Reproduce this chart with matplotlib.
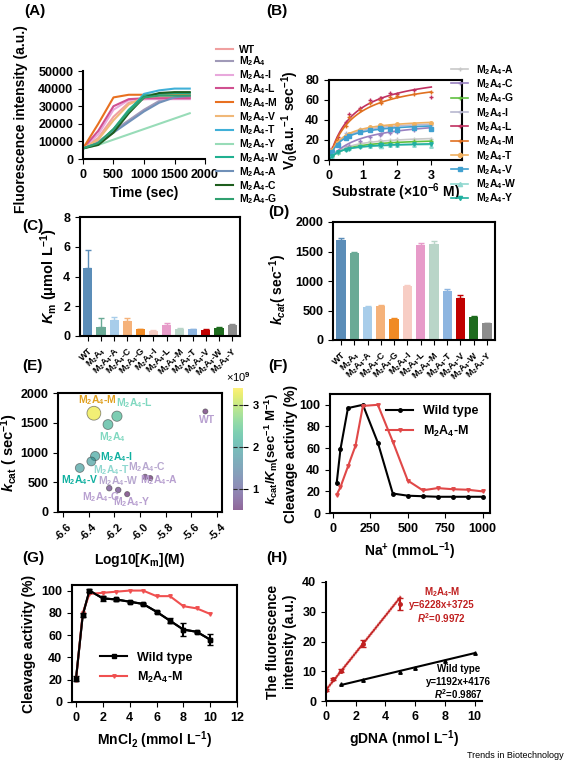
import numpy as np
import matplotlib.pyplot as plt
from matplotlib.colors import Normalize

plt.rcParams['font.family'] = ['Liberation Sans', 'DejaVu Sans']
plt.rcParams['font.weight'] = 'bold'
plt.rcParams['axes.labelweight'] = 'bold'
plt.rcParams['axes.linewidth'] = 1.5
plt.rcParams['font.size'] = 9
plt.rcParams['mathtext.fontset'] = 'custom'
plt.rcParams['mathtext.rm'] = 'Liberation Sans:bold'
plt.rcParams['mathtext.it'] = 'Liberation Sans:italic:bold'
plt.rcParams['mathtext.bf'] = 'Liberation Sans:bold'

W, H = 566, 767
def ax_px(fig, l, t, r, b):
    return fig.add_axes([l / W, 1 - b / H, (r - l) / W, (b - t) / H])

# ---------------- data ----------------
# (A) fluorescence time courses
time_a = [0, 250, 500, 750, 1000, 1250, 1500, 1750]
a_names = ['WT', 'M$_2$A$_4$', 'M$_2$A$_4$-I', 'M$_2$A$_4$-L', 'M$_2$A$_4$-M', 'M$_2$A$_4$-V',
           'M$_2$A$_4$-T', 'M$_2$A$_4$-Y', 'M$_2$A$_4$-W', 'M$_2$A$_4$-A', 'M$_2$A$_4$-C', 'M$_2$A$_4$-G']
a_colors = ['#f0a0a0', '#a09ab8', '#e8a8dc', '#d05090', '#e87020', '#f0b878',
            '#40b0d8', '#98dcb8', '#20b090', '#7090b8', '#1e5e1e', '#30a070']
a_curves = [
    [6000, 12000, 24000, 32000, 34000, 34500, 35000, 35000],
    [6000, 10000, 16000, 22000, 28000, 33000, 35000, 35000],
    [6000, 14000, 28000, 33500, 34000, 34000, 34000, 34000],
    [6000, 16000, 30000, 34000, 34500, 34500, 34500, 34500],
    [6000, 20000, 35000, 36500, 36500, 36500, 36500, 36500],
    [6000, 11000, 22000, 31000, 35000, 36000, 36000, 36000],
    [6000, 9000, 16000, 27000, 37000, 39000, 40000, 40000],
    [6000, 8000, 11000, 14000, 17000, 20000, 23000, 26000],
    [6000, 9000, 17000, 28000, 36000, 37000, 37500, 37500],
    [6000, 9000, 15000, 21000, 27000, 32000, 35000, 36000],
    [6000, 8000, 15000, 26000, 35000, 37500, 38000, 38000],
    [6000, 9000, 17000, 27000, 35000, 36000, 36000, 36000],
]

# (B) Michaelis-Menten
subst = [0.1, 0.25, 0.5, 0.6, 0.9, 1.2, 1.5, 1.8, 2.0, 2.5, 3.0]
b_names = ['M$_2$A$_4$-A', 'M$_2$A$_4$-C', 'M$_2$A$_4$-G', 'M$_2$A$_4$-I', 'M$_2$A$_4$-L',
           'M$_2$A$_4$-M', 'M$_2$A$_4$-T', 'M$_2$A$_4$-V', 'M$_2$A$_4$-W', 'M$_2$A$_4$-Y']
b_colors = ['#c8c8c8', '#9880c0', '#60c040', '#b8b8d0', '#c03060',
            '#e07020', '#f0b060', '#40a0d0', '#90d8d0', '#20b0a0']
b_markers = ['+', '+', '+', '+', '+', '+', 'o', 's', '^', 'v']
b_vmax = [25, 42, 22, 40, 90, 84, 42, 38, 17, 18]
b_km = [0.5, 0.9, 0.5, 0.35, 0.7, 0.7, 0.35, 0.35, 0.3, 0.35]
b_points = [
    [5, 9, 14, 15, 18, 19, 20, 20, 21, 21, 21],
    [4, 8, 12, 14, 19, 23, 25, 27, 28, 30, 32],
    [4, 7, 11, 12, 15, 16, 17, 18, 18, 19, 19],
    [10, 17, 27, 26, 31, 33, 35, 34, 35, 35, 35],
    [12, 23, 38, 46, 52, 60, 62, 67, 66, 70, 63],
    [10, 20, 34, 43, 50, 57, 60, 63, 64, 66, 68],
    [10, 17, 24, 26, 30, 33, 35, 34, 36, 36, 37],
    [8, 15, 22, 24, 28, 30, 32, 31, 30, 32, 31],
    [4, 8, 11, 12, 14, 14, 15, 15, 15, 15, 14],
    [4, 8, 10, 11, 13, 14, 15, 15, 15, 16, 16],
]

# (C)/(D) bars
bar_labels = ['WT', 'M$_2$A$_4$', 'M$_2$A$_4$-A', 'M$_2$A$_4$-C', 'M$_2$A$_4$-G', 'M$_2$A$_4$-I',
              'M$_2$A$_4$-L', 'M$_2$A$_4$-M', 'M$_2$A$_4$-T', 'M$_2$A$_4$-V', 'M$_2$A$_4$-W', 'M$_2$A$_4$-Y']
km_vals = [4.6, 0.6, 1.1, 1.0, 0.45, 0.35, 0.75, 0.45, 0.45, 0.38, 0.55, 0.75]
km_err = [1.2, 0.6, 0.2, 0.2, 0.05, 0.05, 0.15, 0.1, 0.05, 0.07, 0.04, 0.07]
c_colors = ['#5b8db8', '#6aaa96', '#a8cdea', '#f5b27a', '#f08a24', '#f7cdc4',
            '#e79bc9', '#b9d5c8', '#8db5e0', '#c00000', '#1e6b1e', '#8c8c8c']
kcat_vals = [1690, 1470, 560, 570, 350, 920, 1610, 1630, 830, 720, 390, 280]
kcat_err = [40, 30, 20, 30, 15, 20, 40, 40, 30, 50, 20, 10]

# (E) bubble chart
e_names = ['M$_2$A$_4$-M', 'M$_2$A$_4$-L', 'M$_2$A$_4$', 'M$_2$A$_4$-I', 'M$_2$A$_4$-T', 'M$_2$A$_4$-V',
           'M$_2$A$_4$-C', 'M$_2$A$_4$-A', 'M$_2$A$_4$-W', 'M$_2$A$_4$-G', 'M$_2$A$_4$-Y', 'WT']
e_logkm = [-6.36, -6.18, -6.25, -6.35, -6.38, -6.47, -5.96, -5.92, -6.24, -6.17, -6.10, -5.49]
e_kcat = [1660, 1610, 1470, 940, 850, 740, 590, 570, 400, 370, 300, 1690]
e_eff = [3.3, 2.3, 2.2, 2.0, 1.9, 1.9, 0.6, 0.5, 0.7, 0.7, 0.5, 0.4]  # x1e9
e_label_xy = [(-6.48, 1880), (-6.19, 1830), (-6.32, 1260), (-6.31, 920), (-6.37, 710), (-6.62, 540),
              (-6.09, 760), (-6.0, 540), (-6.33, 520), (-6.45, 250), (-6.21, 160), (-5.54, 1550)]
e_label_col = ['#e0a020', '#80d8c0', '#80d8c0', '#10b0a0', '#90d8d0', '#10b0a0',
               '#b8a8d0', '#b8a0d0', '#b8a8d0', '#b8a0d0', '#b8a0d0', '#b8a0d0']

# (F) Na+
na_wt = [25, 50, 100, 200, 300, 400, 500, 600, 700, 800, 900, 1000]
act_wt_na = [28, 59, 97, 100, 65, 18, 16, 15.5, 15, 15, 15, 15]
na_m = [25, 50, 100, 150, 200, 300, 400, 500, 600, 700, 800, 900, 1000]
act_m_na = [17, 24, 43, 62, 99, 100, 66, 30, 21, 23, 22, 21.5, 20]

# (G) MnCl2
mn = [0, 0.5, 1, 2, 3, 4, 5, 6, 7, 8, 9, 10]
act_wt_mn = [21, 78, 100, 93, 92, 90, 88, 81, 73, 65, 63, 56]
err_wt_mn = [2, 2, 1, 2, 1, 1, 1, 1, 2, 6, 1, 5]
act_m_mn = [20, 80, 97, 98, 99, 100, 100, 95, 95, 86, 84, 79]

# (H) gDNA calibration
gdna_m = [0, 0.5, 1, 2.5, 5]
fl_m = [3.7, 7.5, 10.2, 19.3, 32.7]
err_m = [0.3, 0.3, 0.5, 1.2, 2.0]
gdna_wt = [1, 2.5, 5, 6, 8, 10]
fl_wt = [5.6, 6.9, 9.6, 11.2, 13.4, 16.2]
fit_m = (6.228, 3.725)
fit_wt = (1.192, 4.176)

fig = plt.figure(figsize=(W / 100, H / 100), dpi=100)

def panel(x, y, s):
    fig.text(x / W, 1 - y / H, s, fontsize=11, fontweight='bold', va='center')

def bars(ax, vals, errs):
    xb = np.arange(len(vals))
    ax.bar(xb, vals, color=c_colors, width=0.7)
    for xi, v, e, c in zip(xb, vals, errs, c_colors):
        ax.errorbar(xi, v, yerr=[[0], [e]], fmt='none', ecolor=c, capsize=2, lw=1)
    ax.set_xlim(-0.6, 11.6)
    ax.set_xticks(xb)
    ax.set_xticklabels(bar_labels, rotation=45, ha='right', fontsize=6.5, rotation_mode='anchor')

# ---- A ----
ax = ax_px(fig, 83, 71, 205, 159)
for n, c, v in zip(a_names, a_colors, a_curves):
    ax.plot(time_a, v, color=c, lw=1.5, label=n)
ax.set_xlim(0, 2000)
ax.set_ylim(0, 50000)
ax.set_xticks([0, 500, 1000, 1500, 2000])
ax.set_yticks([0, 10000, 20000, 30000, 40000, 50000])
ax.set_xlabel('Time (sec)', fontsize=10)
ax.set_ylabel('Fluorescence intensity (a.u.)', fontsize=10)
ax.yaxis.set_label_coords(-0.45, 0.45)
for s in ['top', 'right']:
    ax.spines[s].set_visible(False)
ax.legend(loc='upper left', bbox_to_anchor=(1.05, 1.36), frameon=False, fontsize=7.5,
          handlelength=1.6, labelspacing=0.0, borderpad=0, handletextpad=0.6)
panel(24, 11, '(A)')

# ---- B ----
ax = ax_px(fig, 329, 80, 462, 160)
xs = np.linspace(0, 3, 100)
for n, c, m, vm, km, p in zip(b_names, b_colors, b_markers, b_vmax, b_km, b_points):
    ax.plot(xs, vm * xs / (km + xs), color=c, lw=1.2, label=n, marker=m, markevery=[50], ms=3)
    ax.plot(subst, p, ls='none', marker=m, color=c, ms=2.5)
ax.set_xlim(0, 3.9)
ax.set_ylim(0, 80)
ax.set_xticks([0, 1, 2, 3])
ax.set_yticks([0, 20, 40, 60, 80])
ax.set_xlabel('Substrate ($\\times$10$^{-6}$ M)', fontsize=10, labelpad=0)
ax.set_ylabel('V$_0$(a.u.$^{-1}$ sec$^{-1}$)', fontsize=10, labelpad=3)
ax.legend(loc='upper left', bbox_to_anchor=(0.88, 1.28), frameon=False, fontsize=7.5,
          handlelength=1.6, labelspacing=0.05, borderpad=0)
panel(266, 11, '(B)')

# ---- C ----
ax = ax_px(fig, 80, 217, 240, 336)
bars(ax, km_vals, km_err)
ax.set_ylim(0, 8)
ax.set_yticks([0, 2, 4, 6, 8])
ax.set_ylabel('$\\mathit{K}_\\mathrm{m}$ (μmol L$^{-1}$)', fontsize=10.5, labelpad=2)
panel(22, 226, '(C)')

# ---- D ----
ax = ax_px(fig, 333, 222, 495, 340)
bars(ax, kcat_vals, kcat_err)
ax.set_ylim(0, 2000)
ax.set_yticks([0, 500, 1000, 1500, 2000])
ax.set_ylabel('$\\mathit{k}_{\\mathit{cat}}$( sec$^{-1}$)', fontsize=10, labelpad=2)
ax.yaxis.set_label_coords(-0.27, 0.43)
panel(268, 212, '(D)')

# ---- E ----
ax = ax_px(fig, 58, 393, 222, 512)
norm = Normalize(0.5, 3.4)
sc = ax.scatter(e_logkm, e_kcat, s=[12 + 8 * v ** 2 for v in e_eff], c=e_eff, cmap='viridis',
                norm=norm, alpha=0.6, edgecolors='#404040', linewidths=0.6, zorder=3)
for n, (lx, ly), col in zip(e_names, e_label_xy, e_label_col):
    ax.text(lx, ly, n, color=col, fontsize=7.5, fontweight='bold', va='center')
ax.set_xlim(-6.64, -5.36)
ax.set_ylim(0, 2000)
ax.set_xticks([-6.6, -6.4, -6.2, -6.0, -5.8, -5.6, -5.4])
ax.set_xticklabels(['-6.6', '-6.4', '-6.2', '-6.0', '-5.8', '-5.6', '-5.4'], rotation=45, fontsize=8)
ax.set_yticks([0, 500, 1000, 1500, 2000])
ax.set_xlabel('Log10[$\\mathit{K}_\\mathrm{m}$](M)', fontsize=10, labelpad=6)
ax.set_ylabel('$\\mathit{k}_\\mathrm{cat}$ ( sec$^{-1}$)', fontsize=10.5, labelpad=0)
cax = ax_px(fig, 233, 388, 243, 510)
cb = fig.colorbar(sc, cax=cax, ticks=[1, 2, 3])
cb.solids.set_alpha(0.6)
cb.outline.set_visible(False)
for t in [1, 2, 3]:
    cax.axhline(t, color='#303030', ls='--', lw=0.8)
cax.tick_params(labelsize=8)
cax.set_title('×10$^9$', fontsize=8, pad=4)
cb.set_label('$\\mathit{k}_\\mathrm{cat}$/$\\mathit{K}_\\mathrm{m}$(sec$^{-1}$ M$^{-1}$)', fontsize=9.5, labelpad=3)
panel(22, 366, '(E)')

# ---- F ----
ax = ax_px(fig, 330, 394, 490, 513)
ax.plot(na_wt, act_wt_na, color='black', marker='o', ms=2.5, lw=1.5, label='Wild type')
ax.plot(na_m, act_m_na, color='#e04848', marker='v', ms=2.5, lw=1.5, label='M$_2$A$_4$-M')
ax.set_xlim(-20, 1050)
ax.set_ylim(0, 110)
ax.set_xticks([0, 250, 500, 750, 1000])
ax.set_yticks([0, 20, 40, 60, 80, 100])
ax.set_xlabel('Na$^{+}$ (mmoL$^{-1}$)', fontsize=10)
ax.set_ylabel('Cleavage activity (%)', fontsize=10, labelpad=1)
ax.legend(loc='upper right', frameon=False, fontsize=9, handlelength=2.2)
panel(268, 366, '(F)')

# ---- G ----
ax = ax_px(fig, 72, 585, 237, 702)
ax.errorbar(mn, act_wt_mn, yerr=err_wt_mn, color='black', marker='s', ms=2.5, lw=1.5, capsize=2)
h1, = ax.plot(mn, act_wt_mn, color='black', marker='s', ms=2.5, lw=1.5)
h2, = ax.plot(mn, act_m_mn, color='#f05050', marker='v', ms=2.5, lw=1.5)
ax.set_xlim(-0.3, 12)
ax.set_ylim(0, 105)
ax.set_xticks(range(0, 13, 2))
ax.set_yticks([0, 20, 40, 60, 80, 100])
ax.set_xlabel('MnCl$_2$ (mmol L$^{-1}$)', fontsize=10)
ax.set_ylabel('Cleavage activity (%)', fontsize=10)
ax.legend([h1, h2], ['Wild type', 'M$_2$A$_4$-M'], loc='lower left', bbox_to_anchor=(0.1, 0.05),
          frameon=False, fontsize=9, handlelength=2.2)
panel(22, 558, '(G)')

# ---- H ----
ax = ax_px(fig, 326, 582, 482, 701)
xl = np.array([0, 5])
ax.plot(xl, fit_m[0] * xl + fit_m[1], color='#c02020', lw=1.5)
ax.plot(xl, fit_m[0] * xl + fit_m[1] + 0.6, color='#f0a0a0', lw=0.8, ls=':')
ax.plot(xl, fit_m[0] * xl + fit_m[1] - 0.6, color='#f0a0a0', lw=0.8, ls=':')
ax.errorbar(gdna_m, fl_m, yerr=err_m, fmt='o', color='#c02020', ms=2.5, capsize=2)
xw = np.array([1, 10])
ax.plot(xw, fit_wt[0] * xw + fit_wt[1], color='black', lw=1.5)
ax.plot(gdna_wt, fl_wt, ls='none', marker='^', color='black', ms=2.5)
ax.text(7.8, 36.6, 'M$_2$A$_4$-M', color='#c02020', fontsize=7, ha='center', va='center')
ax.text(7.8, 32.2, 'y=6228x+3725', color='#c02020', fontsize=7, ha='center', va='center')
ax.text(7.8, 27.8, '$\\mathit{R}^2$=0.9972', color='#c02020', fontsize=7, ha='center', va='center')
ax.text(8.9, 10.7, 'Wild type', color='black', fontsize=7, ha='center', va='center')
ax.text(8.9, 6.5, 'y=1192x+4176', color='black', fontsize=7, ha='center', va='center')
ax.text(8.9, 2.4, '$\\mathit{R}^2$=0.9867', color='black', fontsize=7, ha='center', va='center')
ax.set_xlim(0, 10.5)
ax.set_ylim(0, 40)
ax.set_xticks([0, 2, 4, 6, 8, 10])
ax.set_yticks([0, 10, 20, 30, 40])
for s in ['top', 'right']:
    ax.spines[s].set_visible(False)
ax.set_xlabel('gDNA (nmol L$^{-1}$)', fontsize=10)
ax.set_ylabel('The fluorescence\nintensity (a.u.)', fontsize=10)
panel(266, 558, '(H)')

fig.text(0.995, 0.012, 'Trends in Biotechnology', ha='right', fontsize=6.5, fontweight='normal')

fig.savefig('out.png', dpi=100)
